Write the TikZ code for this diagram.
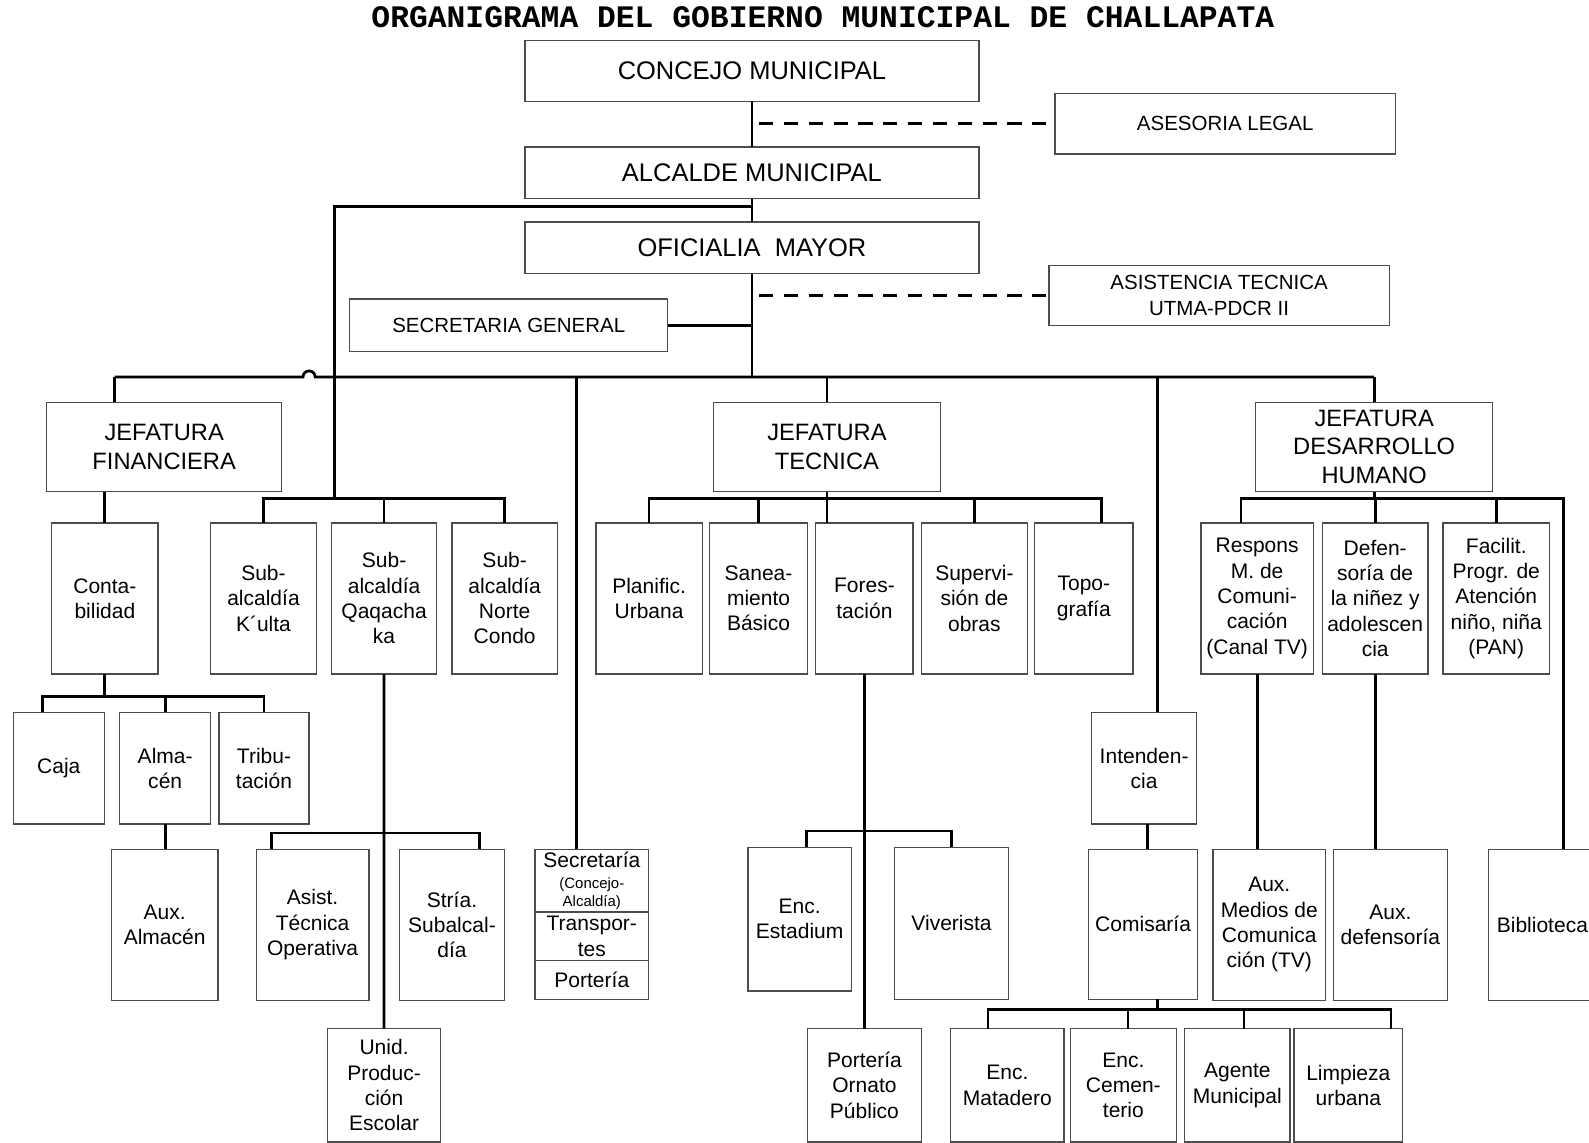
\documentclass[tikz,border=0pt]{standalone}
\usepackage{fontspec}
\setmainfont{Liberation Sans}
\setmonofont{Liberation Mono}
\usetikzlibrary{positioning}
\newcommand\setfs[2]{\fontsize{#1}{#2}\selectfont}

\begin{document}
\begin{tikzpicture}[
    x=0.2mm, y=-0.2mm,
    box/.style={draw=black!70, line width=0.25mm, align=center, inner sep=0.5pt, outer sep=0pt},
    council/.style={box, minimum width=89.6mm, font=\setfs{14.3}{17}},
    advisory/.style={box, minimum width=67.2mm, font=\setfs{11.5}{14.2}},
    chief/.style={box, minimum height=17.6mm, font=\setfs{13.3}{15.9}},
    office/.style={box, minimum width=21mm, minimum height=29.8mm, font=\setfs{11.8}{14.2}},
    post/.style={office, minimum height=22mm},
    leaf/.style={office, minimum height=22.4mm},
    stack/.style={office, minimum width=22.4mm},
    link/.style={line width=0.55mm, draw=black},
    thinlink/.style={line width=0.3mm, draw=black},
    dashlink/.style={line width=0.6mm, draw=black, dash pattern=on 2.8mm off 2.1mm}
  ]
    \path[use as bounding box, fill=white] (0,0) rectangle (1568,1127);

    \node[font=\ttfamily\bfseries\setfs{17.6}{20}] (title) at (812,17) {ORGANIGRAMA DEL GOBIERNO MUNICIPAL DE CHALLAPATA};

    % top of the chart
    \node[council, minimum height=12mm] (concejo) at (742,70) {CONCEJO MUNICIPAL};
    \node[council, minimum height=10.2mm] (alcalde) at (742,170.5) {ALCALDE MUNICIPAL};
    \node[council, minimum height=10.2mm] (oficialia) at (742,244.5) {OFICIALIA\ \ MAYOR};
    \node[advisory, minimum height=12mm] (asesoria) at (1209,122) {ASESORIA LEGAL};
    \node[advisory, minimum height=11.8mm] (asistencia) at (1203,291.5) {ASISTENCIA TECNICA\\UTMA-PDCR II};
    \node[advisory, minimum width=62.8mm, minimum height=10.4mm] (secgen) at (502,321) {SECRETARIA GENERAL};

    % jefaturas
    \node[chief, minimum width=46.4mm] (jfin) at (162,441) {JEFATURA\\FINANCIERA};
    \node[chief, minimum width=44.8mm] (jtec) at (816,441) {JEFATURA\\TECNICA};
    \node[chief, minimum width=46.8mm] (jdh) at (1356,441) {JEFATURA\\DESARROLLO\\HUMANO};

    % third level
    \node[office] (contab) at (103.5,590.5) {Conta-\\bilidad};
    \node[office, minimum width=20.8mm] (subK) at (260,590.5) {Sub-\\alcaldía\\K´ulta};
    \node[office, minimum width=20.8mm, right=3mm of subK] (subQ) {Sub-\\alcaldía\\Qaqacha\\ka};
    \node[office, minimum width=20.8mm, right=3mm of subQ] (subN) {Sub-\\alcaldía\\Norte\\Condo};
    \node[office] (planif) at (640.5,590.5) {Planific.\\Urbana};
    \node[office, minimum width=19.4mm, right=1.4mm of planif] (saneam) {Sanea-\\miento\\Básico};
    \node[office, minimum width=19.2mm, right=1.6mm of saneam] (forest) {Fores-\\tación};
    \node[office, right=1.6mm of forest] (superv) {Supervi-\\sión de\\obras};
    \node[office, minimum width=19.4mm, right=1.4mm of superv] (topog) {Topo-\\grafía};
    \node[office, minimum width=22.2mm] (respons) at (1240.5,590.5) {Respons\\M. de\\Comuni-\\cación\\(Canal TV)};
    \node[office, minimum width=20.8mm, right=1.8mm of respons] (defens) {Defen-\\soría de\\la niñez y\\adolescen\\cia};
    \node[office, right=3mm of defens] (facilit) {Facilit.\\Progr. de\\Atención\\niño, niña\\(PAN)};

    % fourth level
    \node[post, minimum width=18mm] (caja) at (58,758) {Caja};
    \node[post, minimum width=18mm, right=3mm of caja] (alma) {Alma-\\cén};
    \node[post, minimum width=17.8mm, right=1.6mm of alma] (trib) {Tribu-\\tación};
    \node[post, minimum width=20.8mm] (intend) at (1129,758) {Intenden-\\cia};

    % fifth level
    \node[office] (auxalm) at (162.5,912.5) {Aux.\\Almacén};
    \node[office, minimum width=22.2mm] (asist) at (308.5,912.5) {Asist.\\Técnica\\Operativa};
    \node[office, minimum width=20.8mm] (stria) at (446,912.5) {Stría.\\Subalcal-\\día};
    \node[stack, minimum height=12.4mm] (sec1) at (584,869) {Secretaría\\[-2.3pt]{\setfs{8.4}{10}(Concejo-}\\[-4pt]{\setfs{8.4}{10}Alcaldía)}};
    \node[stack, minimum height=9.6mm, below=0mm of sec1] (sec2) {Transpor-\\tes};
    \node[stack, minimum height=7.6mm, below=0mm of sec2] (sec3) {Portería};
    \node[office, minimum width=20.4mm, minimum height=28.4mm] (estad) at (789,907) {Enc.\\Estadium};
    \node[office, minimum width=22.4mm, minimum height=30mm] (viver) at (939,911) {Viverista};
    \node[office, minimum width=21.6mm, minimum height=29.6mm] (comis) at (1128,912) {Comisaría};
    \node[office, minimum width=22.2mm] (auxmed) at (1252.5,912.5) {Aux.\\Medios de\\Comunica\\ción (TV)};
    \node[office, minimum width=22.4mm, right=1.6mm of auxmed] (auxdef) {Aux.\\defensoría};
    \node[office, minimum width=21.2mm] (biblio) at (1522,912.5) {Biblioteca};

    % sixth level
    \node[leaf, minimum width=22.4mm] (unid) at (379,1071) {Unid.\\Produc-\\ción\\Escolar};
    \node[leaf, minimum width=22.4mm] (porton) at (853,1071) {Portería\\Ornato\\Público};
    \node[leaf, minimum width=22.4mm] (matad) at (994,1071) {Enc.\\Matadero};
    \node[leaf, right=1.2mm of matad] (cement) {Enc.\\Cemen-\\terio};
    \node[leaf, minimum width=20.8mm, right=1.6mm of cement] (agente) {Agente\\Municipal};
    \node[leaf, minimum width=21.4mm, right=0.8mm of agente] (limp) {Limpieza\\urbana};

    % bus junctions
    \coordinate (bus) at (742,372);
    \coordinate (bfin) at (113,372);
    \coordinate (hop) at (299,372);
    \coordinate (bsec) at (569,372);
    \coordinate (bint) at (1142,372);
    \coordinate (sbus) at (330,492);
    \coordinate (tbus) at (815,492);
    \coordinate (dbus) at (1356,492);
    \coordinate (cbus) at (103.5,687);
    \coordinate (qbus) at (379,822);
    \coordinate (ebus) at (853,820);
    \coordinate (mbus) at (1142,996);

    \draw[link] (concejo) -- (alcalde);
    \draw[link] (alcalde) -- (oficialia);
    \draw[dashlink] ([xshift=1.4mm]concejo.south |- asesoria.west) -- (asesoria.west);
    \draw[dashlink] ([xshift=1.4mm]oficialia.south |- asistencia.west) -- (asistencia.west);
    \draw[link] (secgen.east) -- (secgen.east -| oficialia.south);
    \draw[link] ([yshift=-1.6mm]alcalde.south) -| (sbus);
    \draw[link] (oficialia.south) -- (bus);
    \draw[link] (bfin) -- (hop) arc[start angle=180, end angle=0, radius=1.2mm] -- (bus -| jdh.north);
    \draw[link] (bfin) -- (bfin |- jfin.north);
    \draw[link] (bsec) -- (bsec |- sec1.north);
    \draw[thinlink] (jtec.north) -- (jtec.north |- bus);
    \draw[link] (bint) -- (bint |- intend.north);
    \draw[link] (bus -| jdh.north) -- (jdh.north);

    \draw[link] (contab.north) -- (contab.north |- jfin.south);
    \draw[link] (contab.south) -- (cbus);
    \draw[link] ([xshift=-3.2mm]caja.north) |- (cbus) -| (trib.north);
    \draw[link] (alma.north) -- (alma.north |- cbus);
    \draw[link] (alma.south) -- (alma.south |- auxalm.north);

    \draw[link] (subK.north) |- (sbus) -| (subN.north);
    \draw[link] (subQ.north) -- (subQ.north |- sbus);
    \draw[link] (subQ.south) -- (unid.north);
    \draw[link] ([xshift=-8.1mm]asist.north) |- (qbus) -| ([xshift=5.4mm]stria.north);

    \draw[link] (planif.north) |- (tbus) -| ([xshift=3.5mm]topog.north);
    \draw[link] (saneam.north) -- (saneam.north |- tbus);
    \draw[link] (superv.north) -- (superv.north |- tbus);
    \draw[link] (jtec.south) -- (jtec.south |- forest.north);
    \draw[link] (forest.south) -- (porton.north);
    \draw[link] ([xshift=1.3mm]estad.north) |- (ebus) -| (viver.north);

    \draw[link] ([xshift=0.7mm]intend.south) -- ([xshift=0.7mm]intend.south |- comis.north);
    \draw[link] (comis.south -| mbus) -- (mbus);
    \draw[link] ([xshift=-3.8mm]matad.north) |- (mbus) -| ([xshift=8.4mm]limp.north);
    \draw[link] ([xshift=0.9mm]cement.north) |- (mbus);
    \draw[link] ([xshift=1.3mm]agente.north) |- (mbus);

    \draw[link] (jdh.south) -- (dbus);
    \draw[link] ([xshift=-3.2mm]respons.north) |- (dbus) -| ([xshift=4.2mm]biblio.north);
    \draw[link] (defens.north) -- (defens.north |- dbus);
    \draw[link] (facilit.north) -- (facilit.north |- dbus);
    \draw[link] (respons.south) -- (respons.south |- auxmed.north);
    \draw[link] (defens.south) -- (defens.south |- auxdef.north);
\end{tikzpicture}
\end{document}
